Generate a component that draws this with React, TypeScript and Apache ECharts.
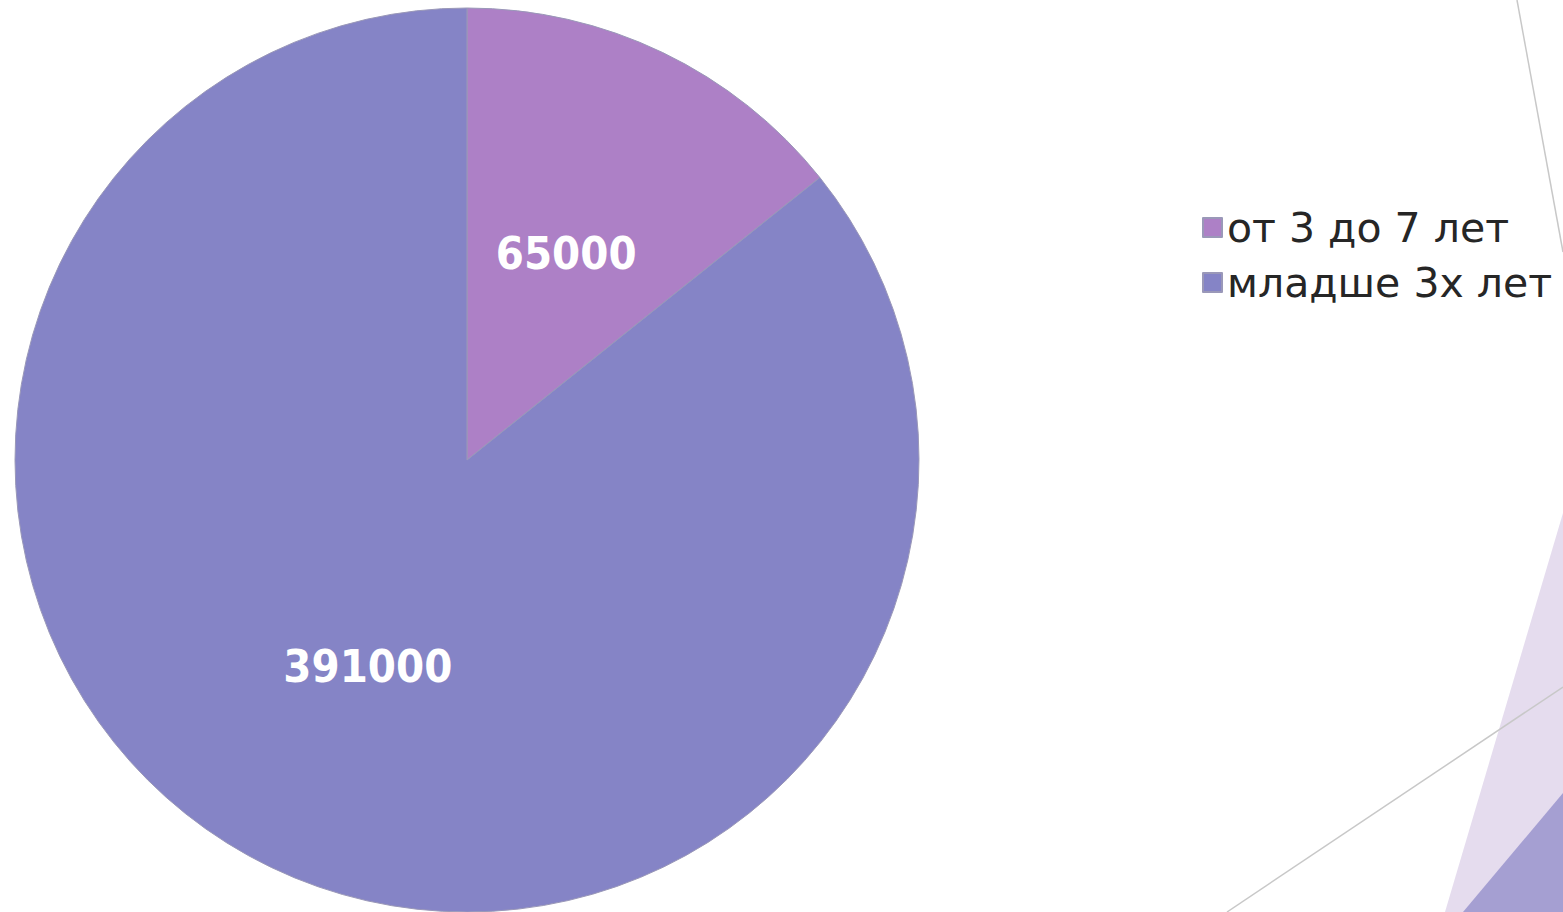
import React, { useEffect, useRef } from "react";
import * as echarts from "echarts";

const categories = ["от 3 до 7 лет", "младше 3х лет"];
const values = [65000, 391000];
const colors = ["#ad80c6", "#8584c6"];

export default function App() {
  const ref = useRef<HTMLDivElement>(null);
  useEffect(() => {
    if (!ref.current) return;
    const chart = echarts.init(ref.current, undefined, { renderer: "svg" });
    chart.setOption({
      animation: false,
      backgroundColor: "#ffffff",
      legend: {
        orient: "vertical",
        left: 1202,
        top: 200,
        padding: 0,
        icon: "rect",
        itemWidth: 19,
        itemHeight: 19,
        itemGap: 0,
        data: categories,
        textStyle: {
          fontFamily: "DejaVu Sans",
          fontSize: 41,
          color: "#262626",
          lineHeight: 55,
        },
      },
      graphic: [
        {
          type: "polygon",
          shape: { points: [[1445, 912], [1563, 513], [1563, 912]] },
          style: { fill: "#e5dcee" },
          z: 1,
        },
        {
          type: "polygon",
          shape: { points: [[1463, 912], [1563, 793], [1563, 912]] },
          style: { fill: "#a59fd2" },
          z: 2,
        },
        {
          type: "line",
          shape: { x1: 1227, y1: 912, x2: 1563, y2: 687 },
          style: { stroke: "#c8c8c8", lineWidth: 1.5 },
          z: 3,
        },
        {
          type: "line",
          shape: { x1: 1517, y1: 0, x2: 1563, y2: 252 },
          style: { stroke: "#c8c8c8", lineWidth: 1.5 },
          z: 3,
        },
      ],
      series: [
        {
          type: "pie",
          center: [467, 460],
          radius: [0, 452],
          startAngle: 90,
          clockwise: true,
          data: categories.map((c, i) => ({
            name: c,
            value: values[i],
            itemStyle: { color: colors[i] },
          })),
          itemStyle: { borderColor: "#9a98b8", borderWidth: 1 },
          label: {
            show: true,
            position: "inside",
            formatter: "{c}",
            color: "#ffffff",
            fontFamily: "DejaVu Sans Condensed",
            fontWeight: "bold",
            fontSize: 45,
          },
          labelLine: { show: false },
          emphasis: { disabled: true },
        },
      ],
    });
    return () => chart.dispose();
  }, []);
  return (
    <div
      ref={ref}
      style={{ position: "fixed", left: 0, top: 0, width: 1563, height: 912 }}
    />
  );
}
